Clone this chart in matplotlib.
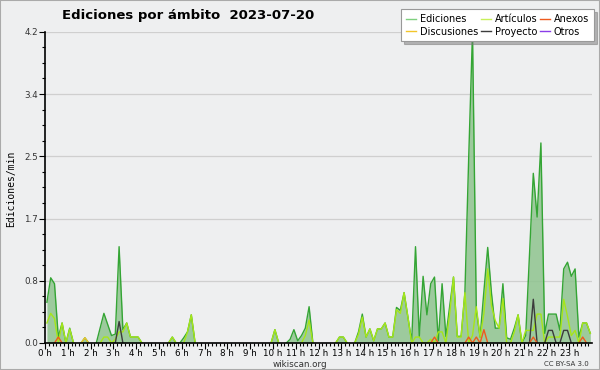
import matplotlib
matplotlib.use("Agg")
import matplotlib.pyplot as plt
import numpy as np
from matplotlib.lines import Line2D
from matplotlib.patches import Rectangle

# 10-minute bins, values are edits per minute
ediciones = [
    0.55, 0.88, 0.80, 0.08, 0.27, 0.00, 0.20, 0.00, 0.00, 0.00, 0.07, 0.00,
    0.00, 0.00, 0.20, 0.40, 0.25, 0.10, 0.12, 1.30, 0.18, 0.27, 0.08, 0.08,
    0.08, 0.00, 0.00, 0.00, 0.00, 0.00, 0.00, 0.00, 0.00, 0.08, 0.00, 0.00,
    0.07, 0.15, 0.38, 0.00, 0.00, 0.00, 0.00, 0.00, 0.00, 0.00, 0.00, 0.00,
    0.00, 0.00, 0.00, 0.00, 0.00, 0.00, 0.00, 0.00, 0.00, 0.00, 0.00, 0.00,
    0.18, 0.00, 0.00, 0.00, 0.05, 0.18, 0.03, 0.10, 0.20, 0.49, 0.00, 0.00,
    0.00, 0.00, 0.00, 0.00, 0.00, 0.08, 0.08, 0.00, 0.00, 0.00, 0.15, 0.39,
    0.08, 0.19, 0.03, 0.19, 0.19, 0.27, 0.08, 0.08, 0.48, 0.44, 0.68, 0.35,
    0.02, 1.30, 0.09, 0.90, 0.38, 0.80, 0.89, 0.03, 0.80, 0.09, 0.50, 0.89,
    0.09, 0.09, 0.68, 2.50, 4.20, 0.45, 0.08, 0.70, 1.29, 0.67, 0.20, 0.20,
    0.80, 0.07, 0.05, 0.20, 0.38, 0.00, 0.10, 1.20, 2.29, 1.70, 2.70, 0.13,
    0.39, 0.39, 0.39, 0.17, 1.00, 1.09, 0.90, 1.00, 0.08, 0.27, 0.27, 0.13,
]
articulos = [
    0.27, 0.40, 0.33, 0.00, 0.27, 0.00, 0.19, 0.00, 0.00, 0.00, 0.00, 0.00,
    0.00, 0.00, 0.00, 0.08, 0.08, 0.00, 0.05, 0.15, 0.15, 0.27, 0.08, 0.08,
    0.08, 0.00, 0.00, 0.00, 0.00, 0.00, 0.00, 0.00, 0.00, 0.08, 0.00, 0.00,
    0.00, 0.15, 0.38, 0.00, 0.00, 0.00, 0.00, 0.00, 0.00, 0.00, 0.00, 0.00,
    0.00, 0.00, 0.00, 0.00, 0.00, 0.00, 0.00, 0.00, 0.00, 0.00, 0.00, 0.00,
    0.18, 0.00, 0.00, 0.00, 0.00, 0.00, 0.00, 0.00, 0.10, 0.31, 0.00, 0.00,
    0.00, 0.00, 0.00, 0.00, 0.00, 0.08, 0.08, 0.00, 0.00, 0.00, 0.12, 0.35,
    0.08, 0.19, 0.03, 0.19, 0.19, 0.27, 0.08, 0.08, 0.45, 0.40, 0.68, 0.35,
    0.00, 0.08, 0.08, 0.00, 0.00, 0.05, 0.00, 0.15, 0.15, 0.00, 0.40, 0.89,
    0.08, 0.08, 0.68, 0.00, 0.10, 0.49, 0.08, 0.40, 1.00, 0.50, 0.30, 0.20,
    0.60, 0.00, 0.00, 0.15, 0.38, 0.00, 0.17, 0.17, 0.17, 0.39, 0.39, 0.00,
    0.08, 0.08, 0.08, 0.08, 0.59, 0.36, 0.10, 0.17, 0.00, 0.27, 0.27, 0.13,
]
# sparse series: {bin: value}
anexos = {3: 0.08, 102: 0.08, 111: 0.08, 113: 0.08, 115: 0.18, 128: 0.08, 141: 0.08}
discusiones = {10: 0.07}
proyecto = {19: 0.29, 128: 0.59, 132: 0.17, 133: 0.17, 136: 0.17, 137: 0.17}
otros = {}

hour_labels = ["%d h" % h for h in range(24)]
y_ticks = [0.0, 0.84, 1.68, 2.52, 3.36, 4.2]
y_tick_labels = ["0.0", "0.8", "1.7", "2.5", "3.4", "4.2"]

n = len(ediciones)
t = (np.arange(n) + 0.5) / 6.0


def dense(d):
    v = np.zeros(n)
    for k, val in d.items():
        v[k] = val
    return v


def hide_flat_zeros(v):
    # zero runs sit on the axis line in the original, so drop them
    v = np.asarray(v, dtype=float).copy()
    z = v == 0
    left = np.r_[True, z[:-1]]
    right = np.r_[z[1:], True]
    v[z & left & right] = np.nan
    return v


bg = "#eeeff0"
fig = plt.figure(figsize=(6, 3.7), dpi=100, facecolor=bg)
ax = fig.add_axes([0.075, 0.073, 0.912, 0.841])
ax.set_facecolor(bg)

c_ed = "#34a534"
c_art = "#a6e619"
c_anx = "#ee5a1e"
c_dis = "#f2c52a"
c_pro = "#3c3c3c"
c_otr = "#8a3de8"

ax.fill_between(t, ediciones, 0, color="#8fc48f", alpha=0.85, lw=0, zorder=2)
ax.plot(t, hide_flat_zeros(ediciones), color=c_ed, lw=1.0, zorder=3)
ax.plot(t, hide_flat_zeros(articulos), color=c_art, lw=1.0, zorder=4)
ax.plot(t, hide_flat_zeros(dense(discusiones)), color=c_dis, lw=1.0, zorder=4)
ax.plot(t, hide_flat_zeros(dense(proyecto)), color=c_pro, lw=1.0, zorder=5)
ax.plot(t, hide_flat_zeros(dense(anexos)), color=c_anx, lw=1.0, zorder=6)

ax.set_xlim(0, 24)
ax.set_ylim(0, 4.2)
ax.set_yticks(y_ticks)
ax.set_yticklabels(y_tick_labels)
ax.set_yticks(np.arange(0, 4.2, 0.21), minor=True)
ax.set_xticks(range(24))
ax.set_xticklabels(hour_labels)
ax.set_xticks(np.arange(0, 24, 1 / 6.0), minor=True)
ax.grid(axis="y", color="#cfcfcf", lw=0.9, zorder=1)
ax.set_axisbelow(True)
for s in ["top", "right"]:
    ax.spines[s].set_visible(False)
for s in ["left", "bottom"]:
    ax.spines[s].set_zorder(10)
    ax.spines[s].set_linewidth(1.2)
ax.tick_params(axis="both", which="major", labelsize=6.3, length=4, width=0.8,
               colors="black")
ax.tick_params(axis="x", which="major", pad=0)
ax.tick_params(axis="y", which="major", pad=1)
ax.tick_params(axis="both", which="minor", length=2.5, width=0.8)
ax.tick_params(axis="y", labelcolor="#333333")

fig.text(0.313, 0.957, "Ediciones por ámbito  2023-07-20", ha="center",
         va="center", fontsize=9.5, fontweight="bold")
fig.text(0.018, 0.49, "Ediciones/min", rotation=90, ha="center",
         va="center", fontsize=7, family="DejaVu Sans Mono")
fig.text(0.5, 0.016, "wikiscan.org", ha="center", va="center", fontsize=6.3,
         color="#333333")
fig.text(0.982, 0.016, "CC BY-SA 3.0", ha="right", va="center", fontsize=5,
         color="#333333")

handles = [Line2D([], [], color=c, lw=1.0) for c in
           ["#7fd07f", c_dis, "#c8f05a", c_pro, c_anx, c_otr]]
labels = ["Ediciones", "Discusiones", "Artículos", "Proyecto", "Anexos", "Otros"]
leg = fig.legend(handles, labels, ncol=3, loc="upper right",
                 bbox_to_anchor=(0.99, 0.975), fontsize=7, frameon=True,
                 fancybox=False, shadow={"color": "#777777"},
                 handlelength=1.0, handletextpad=0.4, columnspacing=0.3,
                 labelspacing=0.25, borderpad=0.5, borderaxespad=0)
leg.get_frame().set_edgecolor("#999999")
leg.get_frame().set_linewidth(0.8)

fig.patches.append(Rectangle((0, 0), 1, 1, transform=fig.transFigure,
                             fill=False, edgecolor="#aaaaaa", lw=1.5))

fig.savefig("out.png", dpi=100, facecolor=bg)
